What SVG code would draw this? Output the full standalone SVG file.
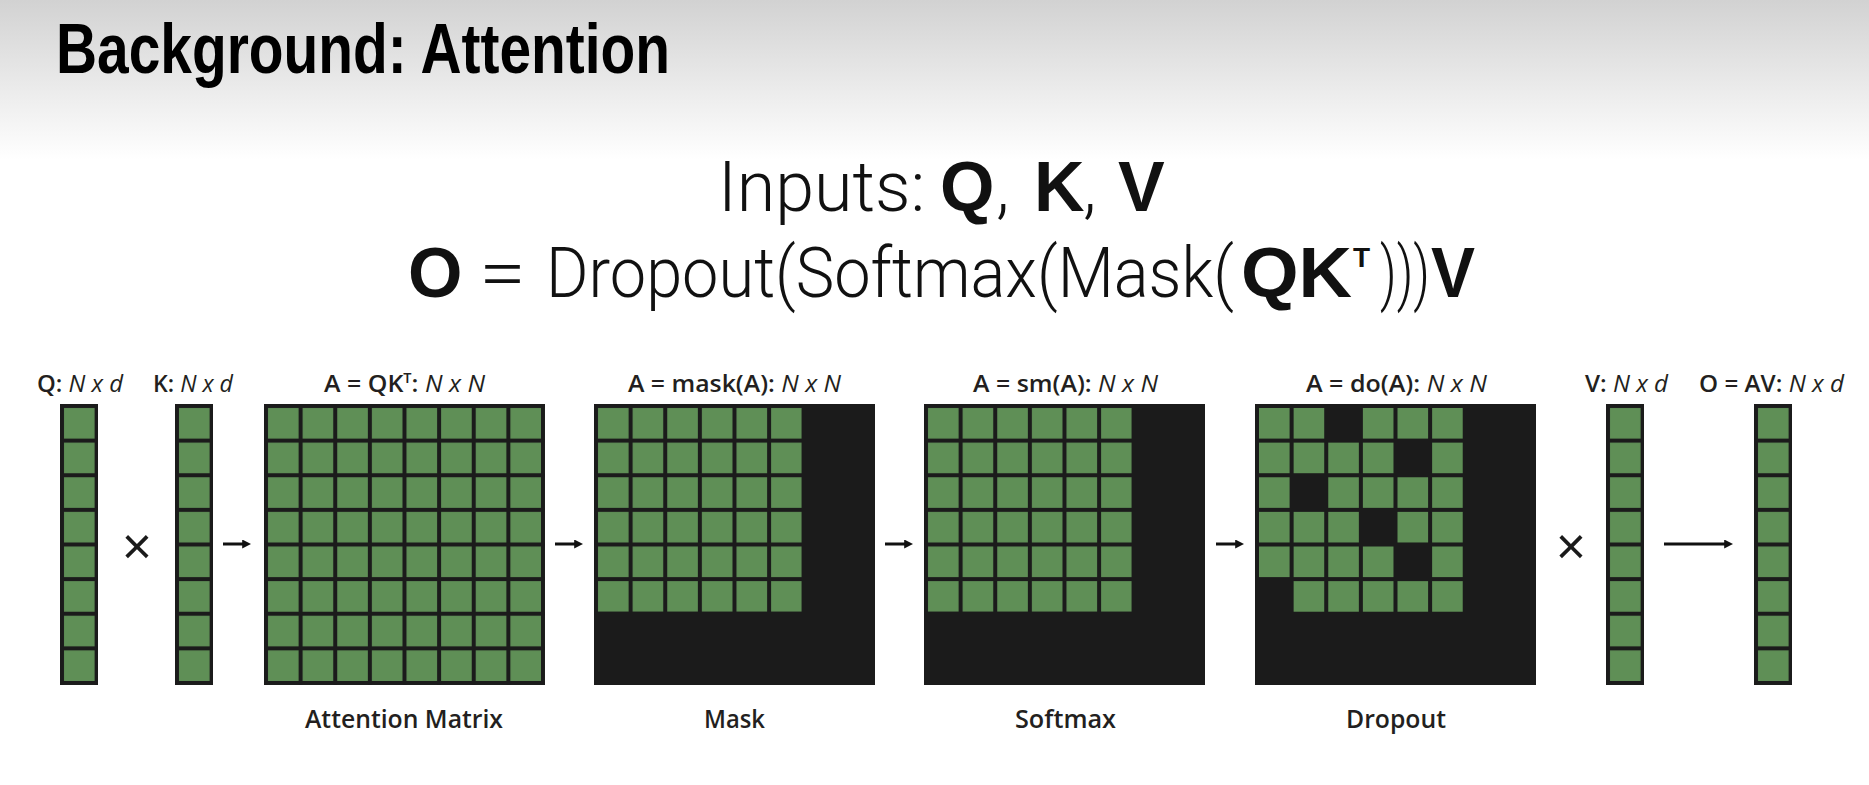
<svg xmlns="http://www.w3.org/2000/svg" xmlns:xlink="http://www.w3.org/1999/xlink" width="1869" height="785" viewBox="0 0 1869 785">
<style>
.title{font-family:"Liberation Sans",Arial,sans-serif;font-weight:700;font-size:70px;fill:#000}
.lt{font-family:Roboto,"Open Sans","Liberation Sans",sans-serif;font-weight:300;font-size:70px;fill:#111}
.bd{font-family:"Liberation Sans",Arial,sans-serif;font-weight:700;font-size:70px;fill:#111}
.lbl{font-family:"Open Sans","Noto Sans",sans-serif;font-weight:600;font-size:24px;fill:#231f20}
.it{font-style:italic;font-weight:400}
.sup{font-size:14px}
.cap{font-family:"Open Sans","Noto Sans",sans-serif;font-weight:600;font-size:25px;fill:#231f20}
.times{font-family:"Liberation Sans",Arial,sans-serif;font-size:52px;fill:#1a1a1a}
.frame{fill:#1b1b1b}
.arrow{stroke:#111;stroke-width:3;fill:none;marker-end:url(#ah)}
</style>
<defs>
<linearGradient id="bg" x1="0" y1="0" x2="0" y2="1">
<stop offset="0" stop-color="#d2d2d2"/>
<stop offset="1" stop-color="#ffffff"/>
</linearGradient>
<pattern id="g8" patternUnits="userSpaceOnUse" x="0" y="0" width="34.625" height="34.625">
<rect x="4" y="4" width="30.6" height="30.6" fill="#5f8f56"/>
</pattern>
<rect id="c" width="30.6" height="30.6" fill="#5f8f56"/>
<marker id="ah" viewBox="0 0 10 10" refX="2" refY="5" markerWidth="3" markerHeight="3" orient="auto" markerUnits="strokeWidth">
<path d="M0,0 L10,5 L0,10 z" fill="#111"/>
</marker>
</defs>
<rect x="0" y="0" width="1869" height="785" fill="#ffffff"/>
<rect x="0" y="0" width="1869" height="160" fill="url(#bg)"/>

<g id="title">
<text class="title" x="56" y="73" textLength="614" lengthAdjust="spacingAndGlyphs">Background: Attention</text>
</g>

<g id="formula">
<text y="211"><tspan class="lt" x="718">Inputs:</tspan><tspan class="bd" x="940">Q</tspan><tspan class="lt" x="996">,</tspan><tspan class="bd" x="1034">K</tspan><tspan class="lt" x="1083">,</tspan><tspan class="bd" x="1118">V</tspan></text>
<text class="bd" x="408" y="297">O</text>
<text class="lt" x="479" y="297" textLength="47" lengthAdjust="spacingAndGlyphs">=</text>
<text class="lt" x="546" y="297" textLength="688" lengthAdjust="spacingAndGlyphs">Dropout(Softmax(Mask(</text>
<text class="bd" x="1241" y="297" textLength="111" lengthAdjust="spacingAndGlyphs">QK</text>
<text class="bd" x="1353" y="267" style="font-size:28px">T</text>
<text class="lt" x="1380" y="297" textLength="50" lengthAdjust="spacingAndGlyphs">)))</text>
<text class="bd" x="1431" y="297" textLength="44" lengthAdjust="spacingAndGlyphs">V</text>
</g>

<g id="Q">
<text class="lbl" x="37" y="392" textLength="86" lengthAdjust="spacingAndGlyphs">Q: <tspan class="it">N x d</tspan></text>
<g transform="translate(60,404)"><rect class="frame" width="38" height="281"/><rect width="38" height="281" fill="url(#g8)"/></g>
</g>

<g id="times1"><text class="times" x="137" y="564" text-anchor="middle">×</text></g>

<g id="K">
<text class="lbl" x="153" y="392" textLength="80" lengthAdjust="spacingAndGlyphs">K: <tspan class="it">N x d</tspan></text>
<g transform="translate(175,404)"><rect class="frame" width="38" height="281"/><rect width="38" height="281" fill="url(#g8)"/></g>
</g>

<g id="attention-matrix">
<text class="lbl" x="324" y="392" textLength="161" lengthAdjust="spacingAndGlyphs">A = QK<tspan class="sup" dy="-9">T</tspan><tspan dy="9">: </tspan><tspan class="it">N x N</tspan></text>
<g transform="translate(264,404)"><rect class="frame" width="281" height="281"/><rect width="281" height="281" fill="url(#g8)"/></g>
<text class="cap" x="305" y="728" textLength="198" lengthAdjust="spacingAndGlyphs">Attention Matrix</text>
</g>

<g id="mask">
<text class="lbl" x="628" y="392" textLength="213" lengthAdjust="spacingAndGlyphs">A = mask(A): <tspan class="it">N x N</tspan></text>
<g transform="translate(594,404)"><rect class="frame" width="281" height="281"/><rect width="207.75" height="207.75" fill="url(#g8)"/></g>
<text class="cap" x="704" y="728" textLength="61" lengthAdjust="spacingAndGlyphs">Mask</text>
</g>

<g id="softmax">
<text class="lbl" x="973" y="392" textLength="185" lengthAdjust="spacingAndGlyphs">A = sm(A): <tspan class="it">N x N</tspan></text>
<g transform="translate(924,404)"><rect class="frame" width="281" height="281"/><rect width="207.75" height="207.75" fill="url(#g8)"/></g>
<text class="cap" x="1015" y="728" textLength="101" lengthAdjust="spacingAndGlyphs">Softmax</text>
</g>

<g id="dropout">
<text class="lbl" x="1306" y="392" textLength="181" lengthAdjust="spacingAndGlyphs">A = do(A): <tspan class="it">N x N</tspan></text>
<g transform="translate(1255,404)">
<rect class="frame" width="281" height="281"/>
<use xlink:href="#c" x="4" y="4"/><use xlink:href="#c" x="38.625" y="4"/><use xlink:href="#c" x="107.875" y="4"/><use xlink:href="#c" x="142.5" y="4"/><use xlink:href="#c" x="177.125" y="4"/>
<use xlink:href="#c" x="4" y="38.625"/><use xlink:href="#c" x="38.625" y="38.625"/><use xlink:href="#c" x="73.25" y="38.625"/><use xlink:href="#c" x="107.875" y="38.625"/><use xlink:href="#c" x="177.125" y="38.625"/>
<use xlink:href="#c" x="4" y="73.25"/><use xlink:href="#c" x="73.25" y="73.25"/><use xlink:href="#c" x="107.875" y="73.25"/><use xlink:href="#c" x="142.5" y="73.25"/><use xlink:href="#c" x="177.125" y="73.25"/>
<use xlink:href="#c" x="4" y="107.875"/><use xlink:href="#c" x="38.625" y="107.875"/><use xlink:href="#c" x="73.25" y="107.875"/><use xlink:href="#c" x="142.5" y="107.875"/><use xlink:href="#c" x="177.125" y="107.875"/>
<use xlink:href="#c" x="4" y="142.5"/><use xlink:href="#c" x="38.625" y="142.5"/><use xlink:href="#c" x="73.25" y="142.5"/><use xlink:href="#c" x="107.875" y="142.5"/><use xlink:href="#c" x="177.125" y="142.5"/>
<use xlink:href="#c" x="38.625" y="177.125"/><use xlink:href="#c" x="73.25" y="177.125"/><use xlink:href="#c" x="107.875" y="177.125"/><use xlink:href="#c" x="142.5" y="177.125"/><use xlink:href="#c" x="177.125" y="177.125"/>
</g>
<text class="cap" x="1346" y="728" textLength="100" lengthAdjust="spacingAndGlyphs">Dropout</text>
</g>

<g id="times2"><text class="times" x="1571" y="564" text-anchor="middle">×</text></g>

<g id="V">
<text class="lbl" x="1585" y="392" textLength="83" lengthAdjust="spacingAndGlyphs">V: <tspan class="it">N x d</tspan></text>
<g transform="translate(1606,404)"><rect class="frame" width="38" height="281"/><rect width="38" height="281" fill="url(#g8)"/></g>
</g>

<g id="O">
<text class="lbl" x="1699" y="392" textLength="145" lengthAdjust="spacingAndGlyphs">O = AV: <tspan class="it">N x d</tspan></text>
<g transform="translate(1754,404)"><rect class="frame" width="38" height="281"/><rect width="38" height="281" fill="url(#g8)"/></g>
</g>

<g id="connectors">
<line class="arrow" x1="223" y1="544" x2="244" y2="544"/>
<line class="arrow" x1="555" y1="544" x2="576" y2="544"/>
<line class="arrow" x1="885" y1="544" x2="906" y2="544"/>
<line class="arrow" x1="1216" y1="544" x2="1237" y2="544"/>
<line class="arrow" x1="1664" y1="544" x2="1726" y2="544"/>
</g>
</svg>
